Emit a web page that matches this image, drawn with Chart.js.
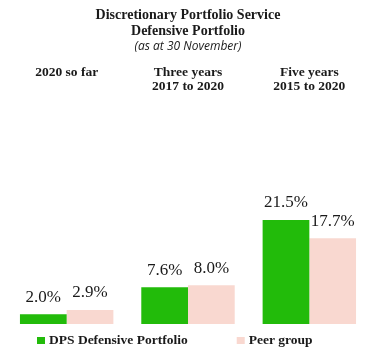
<!DOCTYPE html>
<html>
    <head>
        <script src="https://cdn.jsdelivr.net/npm/chart.js"></script>
        <style>
            body { margin: 0; background: #fff; }
            #wrap { width: 379px; height: 363px; }
        </style>
    </head>

    <body>
        <div id="wrap">
            <canvas id="bars"></canvas>
        </div>

        <script>
            const periods = [['2020 so far', ''], ['Three years', '2017 to 2020'], ['Five years', '2015 to 2020']];
            const dpsValues = [2.0, 7.6, 21.5];
            const peerValues = [2.9, 8.0, 17.7];
            const seriesNames = ['DPS Defensive Portfolio', 'Peer group'];

            const serif = "'Liberation Serif', serif";

            // value labels above each bar
            const valueLabels = {
                id: 'valueLabels',
                afterDatasetsDraw(chart) {
                    const ctx = chart.ctx;
                    ctx.save();
                    ctx.font = '17px ' + serif;
                    ctx.fillStyle = '#1a1a1a';
                    ctx.textAlign = 'center';
                    ctx.textBaseline = 'middle';
                    chart.data.datasets.forEach((ds, i) => {
                        chart.getDatasetMeta(i).data.forEach((bar, j) => {
                            ctx.fillText(ds.data[j].toFixed(1) + '%', bar.x, bar.y - 17);
                        });
                    });
                    ctx.restore();
                }
            };

            // legend under the plot, laid out like the original (wide gap between items)
            const bottomLegend = {
                id: 'bottomLegend',
                afterDraw(chart) {
                    const ctx = chart.ctx;
                    const y = chart.chartArea.bottom + 17;
                    let x = 37;
                    ctx.save();
                    ctx.font = 'bold 13.5px ' + serif;
                    ctx.textBaseline = 'middle';
                    ctx.textAlign = 'left';
                    chart.data.datasets.forEach(ds => {
                        ctx.fillStyle = ds.backgroundColor;
                        ctx.fillRect(x, y - 4, 8, 7);
                        ctx.fillStyle = '#1a1a1a';
                        ctx.fillText(ds.label, x + 12, y);
                        x += 12 + ctx.measureText(ds.label).width + 49;
                    });
                    ctx.restore();
                }
            };

            new Chart(document.getElementById('bars'), {
                type: 'bar',
                data: {
                    labels: periods,
                    datasets: [{
                        label: seriesNames[0],
                        data: dpsValues,
                        backgroundColor: 'rgb(34, 187, 10)'
                    }, {
                        label: seriesNames[1],
                        data: peerValues,
                        backgroundColor: 'rgb(249, 216, 208)'
                    }]
                },
                options: {
                    responsive: true,
                    maintainAspectRatio: false,
                    animation: false,
                    categoryPercentage: 0.77,
                    barPercentage: 1,
                    layout: {
                        padding: {left: 6, right: 9, top: 0, bottom: 39}
                    },
                    scales: {
                        x: {
                            position: 'top',
                            grid: {display: false, drawTicks: false},
                            border: {display: false},
                            ticks: {
                                color: '#1a1a1a',
                                padding: 3,
                                font: {family: serif, size: 13.5, weight: 'bold', lineHeight: 1.04}
                            }
                        },
                        y: {
                            display: false,
                            min: 0,
                            max: 46.9
                        }
                    },
                    plugins: {
                        title: {
                            display: true,
                            text: ['Discretionary Portfolio Service', 'Defensive Portfolio'],
                            color: '#1a1a1a',
                            font: {family: serif, size: 14, weight: 'bold', lineHeight: 1.143},
                            padding: {top: 7, bottom: 0}
                        },
                        subtitle: {
                            display: true,
                            text: '(as at 30 November)',
                            color: '#1a1a1a',
                            font: {family: "'Open Sans', sans-serif", size: 12, style: 'italic', lineHeight: 1.15},
                            padding: {top: 1, bottom: 9}
                        },
                        legend: {display: false},
                        tooltip: {enabled: false}
                    }
                },
                plugins: [valueLabels, bottomLegend]
            });
        </script>
    </body>
</html>
